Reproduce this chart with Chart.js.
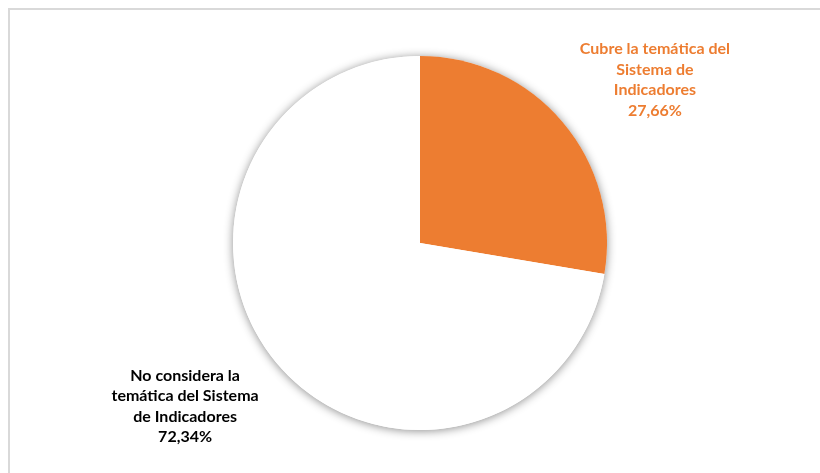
<!DOCTYPE html>
<html>
<head>
<meta charset="utf-8">
<script src="https://cdn.jsdelivr.net/npm/chart.js@4.4.0/dist/chart.umd.min.js"></script>
<style>
  html, body { margin: 0; padding: 0; background: #fff; overflow: hidden; }
  #wrap { position: relative; width: 820px; height: 473px; }
  #frame { position: absolute; left: 8px; top: 8px; width: 900px; height: 600px; border: 2px solid #d9d9d9; box-sizing: border-box; pointer-events: none; }
</style>
</head>
<body>
<div id="wrap">
  <canvas id="pie" width="820" height="473"></canvas>
  <div id="frame"></div>
</div>
<script>
// datos del gráfico
const categories = [
    ['Cubre la temática del', 'Sistema de', 'Indicadores'],
    ['No considera la', 'temática del Sistema', 'de Indicadores']
];
const values = [27.66, 72.34];
const valueLabels = ['27,66%', '72,34%'];
const sliceColors = ['#ED7D31', '#FFFFFF'];
const labelColors = ['#ED7D31', '#000000'];

// sombra suave alrededor del pastel (estilo Excel)
const pieShadow = {
    id: 'pieShadow',
    beforeDatasetsDraw(chart) {
        const arc = chart.getDatasetMeta(0).data[0];
        if (!arc) return;
        const ctx = chart.ctx;
        ctx.save();
        ctx.shadowColor = 'rgba(0,0,0,0.45)';
        ctx.shadowBlur = 10;
        ctx.shadowOffsetX = 0;
        ctx.shadowOffsetY = 1;
        ctx.fillStyle = '#fff';
        ctx.beginPath();
        ctx.arc(arc.x, arc.y, arc.outerRadius, 0, Math.PI * 2);
        ctx.fill();
        ctx.restore();
    }
};

// etiquetas fuera del pastel
const outsideLabels = {
    id: 'outsideLabels',
    afterDatasetsDraw(chart) {
        const ctx = chart.ctx;
        const lineH = 20.5;
        chart.getDatasetMeta(0).data.forEach((arc, i) => {
            const mid = (arc.startAngle + arc.endAngle) / 2 + 5.4 * Math.PI / 180;
            const dist = arc.outerRadius * 1.53;
            const cx = arc.x + Math.cos(mid) * dist;
            const cy = arc.y + Math.sin(mid) * dist;
            const lines = [...categories[i], valueLabels[i]];
            ctx.save();
            ctx.font = 'bold 16px Lato, "Open Sans", sans-serif';
            ctx.fillStyle = labelColors[i];
            ctx.textAlign = 'center';
            ctx.textBaseline = 'middle';
            const top = cy - (lines.length - 1) * lineH / 2;
            lines.forEach((t, k) => ctx.fillText(t, cx, top + k * lineH));
            ctx.restore();
        });
    }
};

new Chart(document.getElementById('pie').getContext('2d'), {
    type: 'pie',
    data: {
        labels: categories.map(c => c.join(' ')),
        datasets: [{
            data: values,
            backgroundColor: sliceColors,
            borderColor: ['#ED7D31', '#FFFFFF'],
            borderWidth: 0
        }]
    },
    options: {
        responsive: false,
        animation: false,
        layout: { padding: { top: 56, bottom: 43, left: 20, right: 0 } },
        plugins: { legend: { display: false }, tooltip: { enabled: false } }
    },
    plugins: [pieShadow, outsideLabels]
});
</script>
</body>
</html>
